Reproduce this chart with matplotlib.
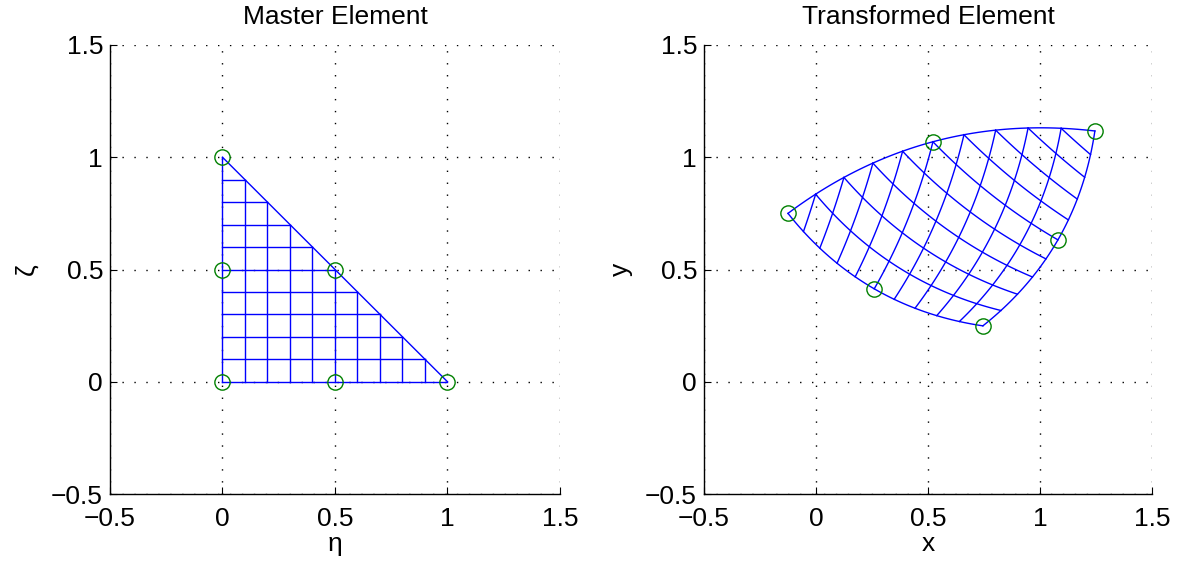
import numpy as np
import matplotlib
matplotlib.use("Agg")
import matplotlib.pyplot as plt

plt.rcParams['font.family'] = ['Liberation Sans', 'DejaVu Sans']
plt.rcParams['lines.scale_dashes'] = False

# six-node triangle: corners then mid-side nodes (master coordinates eta, zeta)
master_eta = [0.0, 1.0, 0.0, 0.5, 0.5, 0.0]
master_zeta = [0.0, 0.0, 1.0, 0.0, 0.5, 0.5]
# same nodes in physical space
phys_x = [0.745, -0.125, 1.245, 0.26, 0.522, 1.08]
phys_y = [0.249, 0.750, 1.117, 0.414, 1.069, 0.632]

n_div = 10
ticks = [-0.5, 0, 0.5, 1, 1.5]
tick_labels = ['\u22120.5', '0', '0.5', '1', '1.5']
fs = 19


def shape(eta, zeta):
    l1 = 1.0 - eta - zeta
    l2 = eta
    l3 = zeta
    return np.array([l1 * (2 * l1 - 1), l2 * (2 * l2 - 1), l3 * (2 * l3 - 1),
                     4 * l1 * l2, 4 * l2 * l3, 4 * l3 * l1])


def grid_lines():
    lines = []
    t = np.linspace(0, 1, 60)
    for k in range(n_div):
        c = k / n_div
        # eta = const, zeta from 0 to 1-c
        lines.append((np.full_like(t, c), t * (1 - c)))
        # zeta = const, eta from 0 to 1-c
        lines.append((t * (1 - c), np.full_like(t, c)))
    # hypotenuse
    lines.append((t, 1 - t))
    return lines


def mapped(eta, zeta, xs, ys):
    N = shape(eta, zeta)
    return np.dot(xs, N), np.dot(ys, N)


def style(ax, title, xl, yl):
    ax.set_xlim(-0.5, 1.5)
    ax.set_ylim(-0.5, 1.5)
    ax.set_xticks(ticks)
    ax.set_yticks(ticks)
    ax.set_xticklabels(tick_labels)
    ax.set_yticklabels(tick_labels)
    ax.tick_params(direction='in', length=5, width=0.8, labelsize=fs)
    ax.tick_params(axis='x', pad=9)
    ax.tick_params(axis='y', pad=5)
    ax.spines['top'].set_visible(False)
    ax.spines['right'].set_visible(False)
    for s in ('left', 'bottom'):
        ax.spines[s].set_linewidth(1.0)
    ax.grid(True, color='k', linestyle=(0, (1.0, 7.6)), linewidth=1.0)
    ax.set_axisbelow(True)
    ax.set_title(title, fontsize=fs, pad=15)
    ax.set_xlabel(xl, fontsize=fs, labelpad=1)
    ax.set_ylabel(yl, fontsize=fs, labelpad=9)


fig = plt.figure(figsize=(11.84, 5.71), dpi=100)
ax1 = fig.add_axes([110 / 1184, 77 / 571, 450 / 1184, 449 / 571])
ax2 = fig.add_axes([704 / 1184, 77 / 571, 448 / 1184, 449 / 571])

for eta, zeta in grid_lines():
    ax1.plot(eta, zeta, color='b', lw=1.0)
    x, y = mapped(eta, zeta, phys_x, phys_y)
    ax2.plot(x, y, color='b', lw=1.0)

ax1.plot(master_eta, master_zeta, 'o', mfc='none', mec=(0, 0.5, 0), ms=11, mew=1.0)
ax2.plot(phys_x, phys_y, 'o', mfc='none', mec=(0, 0.5, 0), ms=11, mew=1.0)

style(ax1, 'Master Element', '\u03b7', '\u03b6')
style(ax2, 'Transformed Element', 'x', 'y')

fig.savefig('out.png', dpi=100)
